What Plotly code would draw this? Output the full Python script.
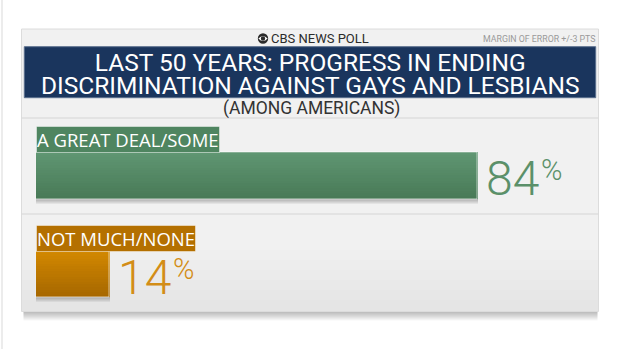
import plotly.graph_objects as go

# ---- data -------------------------------------------------------------
categories = ["A GREAT DEAL/SOME", "NOT MUCH/NONE"]
values = [84, 14]
title_lines = ["LAST 50 YEARS: PROGRESS IN ENDING",
               "DISCRIMINATION AGAINST GAYS AND LESBIANS"]
subtitle = "(AMONG AMERICANS)"
poll_name = "CBS NEWS POLL"
margin_note = "MARGIN OF ERROR +/-3 PTS"

# ---- styling ----------------------------------------------------------
W, H = 620, 349
bar_top = ["#5f9672", "#d28800"]
bar_bottom = ["#497a57", "#a66700"]
label_bg = ["#4f8560", "#b47000"]
value_color = ["#5b9069", "#d38d17"]
navy = "#1a355d"
FONT = "Roboto"
VALUE_SIZE = 48
DIGIT_ADV = 0.5615      # Roboto digits are tabular


def px(x):
    return x / W


def py(y):
    return 1 - y / H


def mix(c1, c2, t):
    a = [int(c1[i:i + 2], 16) for i in (1, 3, 5)]
    b = [int(c2[i:i + 2], 16) for i in (1, 3, 5)]
    return "#" + "".join(f"{round(a[k] + (b[k] - a[k]) * t):02x}" for k in range(3))


fig = go.Figure()

BW = 0.47           # bar thickness in category units
UNIT_PX = 98.7      # pixels per category step

# soft drop shadow under each bar
for k in range(1, 6):
    fig.add_trace(go.Bar(
        x=values, y=categories, orientation="h",
        width=BW, offset=-BW / 2 + k * 1.0 / UNIT_PX,
        marker=dict(color="rgba(0,0,0,0.055)", line=dict(width=0)),
        hoverinfo="skip", showlegend=False))

# vertical gradient fill: each slice covers from its top down to the bar bottom
N = 18
for i in range(N):
    t = i / (N - 1)
    fig.add_trace(go.Bar(
        x=values, y=categories, orientation="h",
        width=BW - i * BW / N, offset=-BW / 2 + i * BW / N,
        marker=dict(color=[mix(bar_top[j], bar_bottom[j], t) for j in range(len(values))],
                    line=dict(width=0)),
        hoverinfo="skip", showlegend=False))

# thin light outline around bars
fig.add_trace(go.Bar(
    x=values, y=categories, orientation="h",
    width=BW, offset=-BW / 2,
    marker=dict(color="rgba(0,0,0,0)", line=dict(color="rgba(255,255,255,0.6)", width=1)),
    hoverinfo="skip", showlegend=False))

# ---- panel decoration ---------------------------------------------------
PL, PR, PT, PB = 21.5, 598.5, 29, 311.5
shapes = []
# panel shadow
for k in range(1, 10):
    shapes.append(dict(type="rect", xref="paper", yref="paper", layer="below",
                       x0=px(PL + 2), x1=px(PR - 1), y0=py(PB + k), y1=py(PB - 8),
                       fillcolor="rgba(0,0,0,0.03)", line=dict(width=0)))
# panel body
shapes.append(dict(type="rect", xref="paper", yref="paper", layer="below",
                   x0=px(PL), x1=px(PR), y0=py(PB), y1=py(PT),
                   fillcolor="#f1f1f1", line=dict(color="#dcdcdc", width=1)))
# slight darkening towards the bottom of the panel
for k in range(6):
    shapes.append(dict(type="rect", xref="paper", yref="paper", layer="below",
                       x0=px(PL + 0.5), x1=px(PR - 0.5), y0=py(PB - 0.5), y1=py(250 + k * 10),
                       fillcolor="rgba(0,0,0,0.008)", line=dict(width=0)))
# navy title band
shapes.append(dict(type="rect", xref="paper", yref="paper", layer="below",
                   x0=px(24.3), x1=px(595.7), y0=py(97.7), y1=py(46.7),
                   fillcolor=navy, line=dict(color="#5a6f8e", width=1)))
# separators
for yy in (118, 214):
    shapes.append(dict(type="line", xref="paper", yref="paper", layer="below",
                       x0=px(PL), x1=px(PR), y0=py(yy), y1=py(yy),
                       line=dict(color="#d6d6d6", width=1.2)))
# faint left edge line
shapes.append(dict(type="line", xref="paper", yref="paper", layer="below",
                   x0=px(2), x1=px(2), y0=0, y1=1,
                   line=dict(color="#ececec", width=2)))

# CBS eye logo
cx, cy, r = 263, 38.5, 5.2
shapes.append(dict(type="circle", xref="paper", yref="paper",
                   x0=px(cx - r), x1=px(cx + r), y0=py(cy + r), y1=py(cy - r),
                   fillcolor="#2b2b2b", line=dict(width=0)))
ex = 4.6
eye = (f"M {px(cx - ex)} {py(cy)} Q {px(cx)} {py(cy - 5.2)} {px(cx + ex)} {py(cy)} "
       f"Q {px(cx)} {py(cy + 5.2)} {px(cx - ex)} {py(cy)} Z")
shapes.append(dict(type="path", xref="paper", yref="paper", path=eye,
                   fillcolor="white", line=dict(width=0)))
pr = 2.2
shapes.append(dict(type="circle", xref="paper", yref="paper",
                   x0=px(cx - pr), x1=px(cx + pr), y0=py(cy + pr), y1=py(cy - pr),
                   fillcolor="#2b2b2b", line=dict(width=0)))

# ---- text ---------------------------------------------------------------
# the headline uses a small base size so the two lines sit close together,
# while each line is rendered at the larger size through a span style
title_html = "<br>".join(f'<span style="font-size:24.5px">{t}</span>' for t in title_lines)

annotations = [
    dict(text=poll_name, xref="paper", yref="paper", x=px(269), y=py(38.5),
         xanchor="left", yanchor="middle", showarrow=False,
         font=dict(family=FONT, size=13, color="#2b2b2b")),
    dict(text=margin_note, xref="paper", yref="paper", x=px(597), y=py(39),
         xanchor="right", yanchor="middle", showarrow=False,
         font=dict(family=FONT, size=8.8, color="#9a9a9a")),
    dict(text=title_html, xref="paper", yref="paper", x=px(310), y=py(73.5),
         xanchor="center", yanchor="middle", showarrow=False, align="center",
         font=dict(family=FONT, size=18, color="white")),
    dict(text=subtitle, xref="paper", yref="paper", x=px(311), y=py(108.5),
         xanchor="center", yanchor="middle", showarrow=False,
         font=dict(family=FONT, size=17.5, color="#333333")),
]

for j, (cat, val) in enumerate(zip(categories, values)):
    # category tag above the bar
    annotations.append(dict(
        text=cat, xref="x", yref="y", x=0, y=cat, yshift=36,
        xanchor="left", yanchor="middle", showarrow=False,
        bgcolor=label_bg[j], bordercolor="rgba(255,255,255,0.45)", borderwidth=1, borderpad=0,
        font=dict(family="Open Sans", size=18.5, color="white")))
    # value read-out: the number, then a raised percent sign after it
    num = f"{val}"
    annotations.append(dict(
        text=num, xref="x", yref="y", x=val, y=cat, xshift=7, yshift=-2.5,
        xanchor="left", yanchor="middle", showarrow=False,
        font=dict(family=FONT, size=VALUE_SIZE, color=value_color[j], weight=300)))
    annotations.append(dict(
        text="%", xref="x", yref="y", x=val, y=cat,
        xshift=7 + len(num) * DIGIT_ADV * VALUE_SIZE + 1, yshift=5.5,
        xanchor="left", yanchor="middle", showarrow=False,
        font=dict(family=FONT, size=29, color=value_color[j], weight=300)))

fig.update_layout(
    width=W, height=H,
    margin=dict(l=0, r=0, t=0, b=0),
    paper_bgcolor="white", plot_bgcolor="rgba(0,0,0,0)",
    barmode="overlay", bargap=0,
    xaxis=dict(domain=[35.5 / W, (35.5 + 441.5 / 0.84) / W], range=[0, 100],
               visible=False, fixedrange=True),
    yaxis=dict(domain=[(H - (274.5 + UNIT_PX / 2)) / H, (H - (175.8 - UNIT_PX / 2)) / H],
               type="category", categoryorder="array", categoryarray=categories,
               range=[1.5, -0.5], visible=False, fixedrange=True),
    shapes=shapes, annotations=annotations,
    showlegend=False,
)

fig.write_html("out.html")
